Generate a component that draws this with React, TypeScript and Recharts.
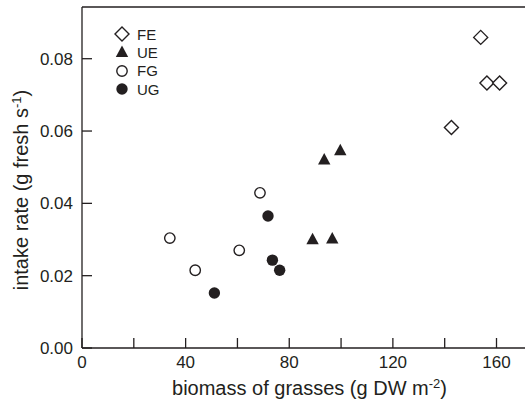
import React from 'react';
import { ScatterChart, Scatter, XAxis, YAxis } from 'recharts';

const feData = [
  { x: 153.9, y: 0.0859 },
  { x: 156.3, y: 0.0733 },
  { x: 161.2, y: 0.0733 },
  { x: 142.6, y: 0.061 },
];
const ueData = [
  { x: 93.5, y: 0.0521 },
  { x: 99.7, y: 0.0547 },
  { x: 89.0, y: 0.0301 },
  { x: 96.6, y: 0.0303 },
];
const fgData = [
  { x: 33.9, y: 0.0304 },
  { x: 43.7, y: 0.0215 },
  { x: 60.7, y: 0.027 },
  { x: 68.7, y: 0.0429 },
];
const ugData = [
  { x: 51.1, y: 0.0152 },
  { x: 71.8, y: 0.0365 },
  { x: 73.5, y: 0.0243 },
  { x: 76.3, y: 0.0215 },
];

const seriesNames = ['FE', 'UE', 'FG', 'UG'];
const xTicks = [0, 20, 40, 60, 80, 100, 120, 140, 160];
const xLabelled = [0, 40, 80, 120, 160];
const yTicks = [0, 0.02, 0.04, 0.06, 0.08];
const X_DOMAIN: [number, number] = [0, 171];
const Y_DOMAIN: [number, number] = [0, 0.0943];

const INK = '#231f20';
const FONT = 'Liberation Sans, Arial, Helvetica, sans-serif';

type Kind = 'diamond' | 'triangle' | 'open' | 'filled';
const kinds: Kind[] = ['diamond', 'triangle', 'open', 'filled'];

function Marker({ kind, cx, cy }: { kind: Kind; cx: number; cy: number }) {
  if (kind === 'diamond') {
    const r = 7;
    return (
      <path
        d={`M${cx},${cy - r}L${cx + r},${cy}L${cx},${cy + r}L${cx - r},${cy}Z`}
        fill="#fff"
        stroke={INK}
        strokeWidth={1.4}
      />
    );
  }
  if (kind === 'triangle') {
    const w = 6.2;
    return (
      <path
        d={`M${cx},${cy - 6.5}L${cx + w},${cy + 5}L${cx - w},${cy + 5}Z`}
        fill={INK}
        stroke="none"
      />
    );
  }
  if (kind === 'open') {
    return <circle cx={cx} cy={cy} r={5.2} fill="#fff" stroke={INK} strokeWidth={1.4} />;
  }
  return <circle cx={cx} cy={cy} r={5.7} fill={INK} stroke="none" />;
}

const makeShape = (kind: Kind) => (props: any) => <Marker kind={kind} cx={props.cx} cy={props.cy} />;

const XTick = (props: any) => {
  const { x, y, payload } = props;
  const v = payload.value;
  return (
    <g>
      <line x1={x} y1={y} x2={x} y2={y - 10} stroke={INK} strokeWidth={1.3} />
      {xLabelled.includes(v) && (
        <text x={x} y={y + 20} textAnchor="middle" fontSize={17} fill={INK} fontFamily={FONT}>
          {String(v)}
        </text>
      )}
    </g>
  );
};

const YTick = (props: any) => {
  const { x, y, payload } = props;
  return (
    <g>
      <line x1={x} y1={y} x2={x + 10} y2={y} stroke={INK} strokeWidth={1.3} />
      <text x={x - 9} y={y} dy="0.35em" textAnchor="end" fontSize={17} fill={INK} fontFamily={FONT}>
        {Number(payload.value).toFixed(2)}
      </text>
    </g>
  );
};

const XTitle = (props: any) => {
  const vb = props.viewBox;
  return (
    <text x={vb.x + vb.width / 2 + 6} y={vb.y + 47} textAnchor="middle" fontSize={20} fill={INK} fontFamily={FONT}>
      biomass of grasses (g DW m
      <tspan dy={-7} fontSize={13}>-2</tspan>
      <tspan dy={7}>)</tspan>
    </text>
  );
};

const YTitle = () => {
  const cx = 28;
  const cy = 190;
  return (
    <text
      x={cx}
      y={cy}
      transform={`rotate(-90, ${cx}, ${cy})`}
      textAnchor="middle"
      fontSize={20}
      fill={INK}
      fontFamily={FONT}
    >
      intake rate (g fresh s
      <tspan dy={-7} fontSize={13}>-1</tspan>
      <tspan dy={7}>)</tspan>
    </text>
  );
};

const LegendBox = () => (
  <div
    style={{
      position: 'absolute',
      left: 114,
      top: 25,
      fontFamily: FONT,
      fontSize: 15,
      color: INK,
      lineHeight: 1,
    }}
  >
    {seriesNames.map((name, i) => (
      <div key={name} style={{ display: 'flex', alignItems: 'center', height: 18.3 }}>
        <svg width={16} height={16} style={{ marginRight: 7 }}>
          <Marker kind={kinds[i]} cx={8} cy={8} />
        </svg>
        <span>{name}</span>
      </div>
    ))}
  </div>
);

export default function App() {
  return (
    <div style={{ position: 'absolute', left: 0, top: 0, width: 525, height: 403, background: '#fff' }}>
      <ScatterChart width={525} height={403} margin={{ top: 6, right: 0, bottom: 0, left: 0 }}>
        <XAxis
          xAxisId="top"
          orientation="top"
          type="number"
          dataKey="x"
          domain={X_DOMAIN}
          height={1}
          tick={false}
          tickLine={false}
          axisLine={{ stroke: INK, strokeWidth: 1.3 }}
        />
        <XAxis
          type="number"
          dataKey="x"
          domain={X_DOMAIN}
          ticks={xTicks}
          interval={0}
          height={55}
          tickSize={0}
          tickMargin={0}
          tickLine={false}
          tick={XTick}
          axisLine={{ stroke: INK, strokeWidth: 1.3 }}
          label={{ content: XTitle } as any}
          allowDataOverflow
        />
        <YAxis
          type="number"
          dataKey="y"
          domain={Y_DOMAIN}
          ticks={yTicks}
          interval={0}
          width={82}
          tickSize={0}
          tickMargin={0}
          tickLine={false}
          tick={YTick}
          axisLine={{ stroke: INK, strokeWidth: 1.3 }}
          label={{ content: YTitle } as any}
          allowDataOverflow
        />
        <Scatter name="FE" data={feData} shape={makeShape('diamond')} isAnimationActive={false} />
        <Scatter name="UE" data={ueData} shape={makeShape('triangle')} isAnimationActive={false} />
        <Scatter name="FG" data={fgData} shape={makeShape('open')} isAnimationActive={false} />
        <Scatter name="UG" data={ugData} shape={makeShape('filled')} isAnimationActive={false} />
      </ScatterChart>
      <LegendBox />
    </div>
  );
}
